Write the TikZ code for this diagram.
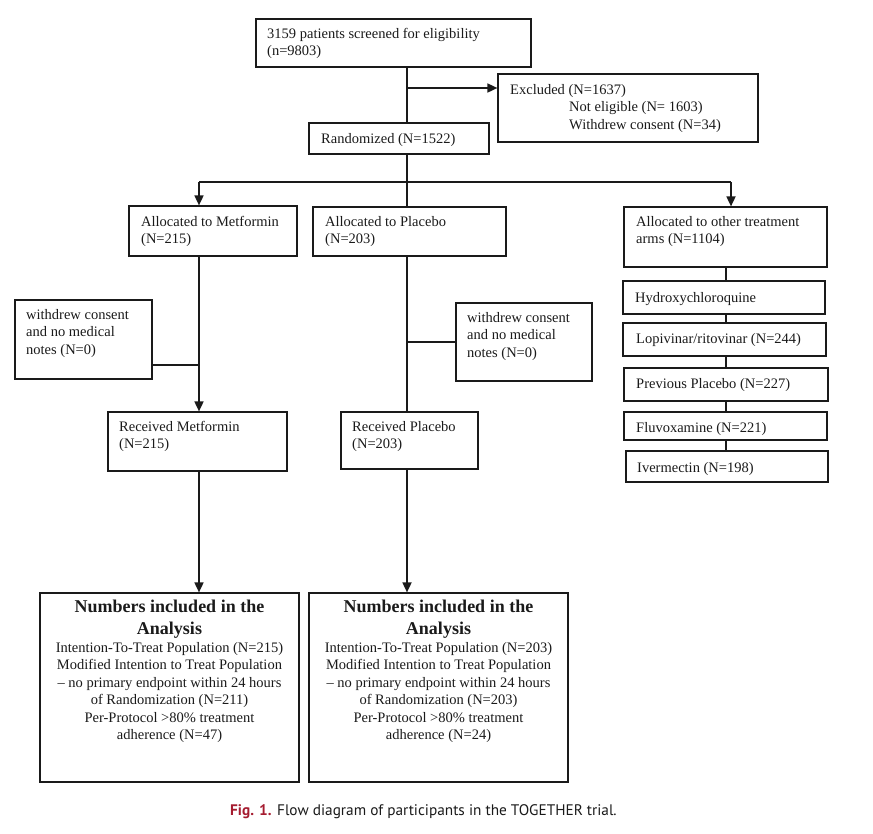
\documentclass[tikz,border=0pt]{standalone}
\usepackage{fontspec}
\setmainfont{Liberation Serif}
\newfontfamily\capfont{PT Sans}
\usetikzlibrary{arrows.meta}
\definecolor{figred}{HTML}{A51C30}
\definecolor{ink}{HTML}{1A1A1A}
\newcommand\mainsz{\fontsize{14.5}{17.5}\selectfont}
\newcommand\titlesz{\fontsize{18}{22}\selectfont}
\begin{document}
\begin{tikzpicture}[x=1pt,y=-1pt,
  box/.style={draw=ink, line width=1.2pt, inner sep=0pt},
  txt/.style={anchor=north west, inner sep=0pt, align=left, font=\mainsz, text=ink},
  one/.style={anchor=base west, inner sep=0pt, font=\mainsz, text=ink},
  ctr/.style={anchor=north, inner sep=0pt, align=center, text=ink},
  conn/.style={draw=ink, line width=1.7pt},
  arr/.style={conn, -{Triangle[width=9pt,length=10pt]}}]
\useasboundingbox (0,0) rectangle (873,833);
% boxes
\node[box, minimum width=275pt, minimum height=48pt] (top) at (393.5,43) {};
\node[box, minimum width=260pt, minimum height=68pt] (excl) at (628,108) {};
\node[box, minimum width=180pt, minimum height=31pt] (rand) at (399,138.5) {};
\node[box, minimum width=168pt, minimum height=50pt] (allocM) at (213,231) {};
\node[box, minimum width=193pt, minimum height=49pt] (allocP) at (409.5,231.5) {};
\node[box, minimum width=203pt, minimum height=60pt] (allocO) at (725.5,237) {};
\node[box, minimum width=137pt, minimum height=79pt] (wdM) at (83.5,339.5) {};
\node[box, minimum width=136pt, minimum height=78pt] (wdP) at (524,342) {};
\node[box, minimum width=179pt, minimum height=59pt] (recM) at (197.5,441.5) {};
\node[box, minimum width=137pt, minimum height=57pt] (recP) at (409.5,440.5) {};
\node[box, minimum width=202pt, minimum height=33pt] (hcq) at (724,297.5) {};
\node[box, minimum width=203pt, minimum height=33pt] (lop) at (724.5,339.5) {};
\node[box, minimum width=204pt, minimum height=33pt] (pp) at (726,384.5) {};
\node[box, minimum width=203pt, minimum height=28pt] (flu) at (725.5,426) {};
\node[box, minimum width=202pt, minimum height=31pt] (iver) at (727,466.5) {};
\node[box, minimum width=259pt, minimum height=189pt] (anM) at (169.5,687.5) {};
\node[box, minimum width=259pt, minimum height=189pt] (anP) at (438.5,687.5) {};
% texts
\node[txt] (ttop) at (267,28) {3159 patients screened for eligibility\\(n=9803)};
\node[txt] (texcl) at (510,84) {Excluded (N=1637)\\\hspace{59pt}Not eligible (N= 1603)\\\hspace{59pt}Withdrew consent (N=34)};
\node[one] (trand) at (321,143) {Randomized (N=1522)};
\node[txt] (tallocM) at (141,216) {Allocated to Metformin\\(N=215)};
\node[txt] (tallocP) at (325,216) {Allocated to Placebo\\(N=203)};
\node[txt] (tallocO) at (636,216) {Allocated to other treatment\\arms (N=1104)};
\node[txt] (twdM) at (26,309) {withdrew consent\\and no medical\\notes (N=0)};
\node[txt] (twdP) at (467,312) {withdrew consent\\and no medical\\notes (N=0)};
\node[txt] (trecM) at (119,421) {Received Metformin\\(N=215)};
\node[txt] (trecP) at (352,421) {Received Placebo\\(N=203)};
\node[one] (thcq) at (635,302) {Hydroxychloroquine};
\node[one] (tlop) at (636,343) {Lopivinar/ritovinar (N=244)};
\node[one] (tpp) at (636,388) {Previous Placebo (N=227)};
\node[one] (tflu) at (636,432) {Fluvoxamine (N=221)};
\node[one] (tiver) at (637,472) {Ivermectin (N=198)};
\node[ctr, font=\titlesz\bfseries] (hanM) at (169.5,600) {Numbers included in the\\Analysis};
\node[ctr, font=\mainsz] (banM) at (169.5,642) {Intention-To-Treat Population (N=215)\\Modified Intention to Treat Population\\-- no primary endpoint within 24 hours\\of Randomization (N=211)\\Per-Protocol >80\% treatment\\adherence (N=47)};
\node[ctr, font=\titlesz\bfseries] (hanP) at (438.5,600) {Numbers included in the\\Analysis};
\node[ctr, font=\mainsz] (banP) at (438.5,642) {Intention-To-Treat Population (N=203)\\Modified Intention to Treat Population\\-- no primary endpoint within 24 hours\\of Randomization (N=203)\\Per-Protocol >80\% treatment\\adherence (N=24)};
\node[anchor=base west, inner sep=0pt, font=\capfont\fontsize{15.3}{17}\selectfont, text=ink] (cap) at (230,815) {{\bfseries\color{figred}Fig. 1.} Flow diagram of participants in the TOGETHER trial.};
% helper coordinates
\coordinate (spine) at (407,0);
\coordinate (exy) at (0,88);
\coordinate (bry) at (0,182);
\coordinate (leftx) at (199,0);
\coordinate (rightx) at (731,0);
\coordinate (stackx) at (726,0);
\coordinate (wdMy) at (0,365);
\coordinate (wdPy) at (0,342);
% connectors
\draw[conn] (top.south -| spine) -- (rand.north -| spine);
\draw[arr] (spine |- exy) -- (excl.west |- exy);
\draw[conn] (rand.south -| spine) -- (allocP.north -| spine);
\draw[conn] (leftx |- bry) -- (rightx |- bry);
\draw[arr] (leftx |- bry) -- (allocM.north -| leftx);
\draw[arr] (rightx |- bry) -- (allocO.north -| rightx);
\draw[arr] (allocM.south -| leftx) -- (recM.north -| leftx);
\draw[conn] (wdM.east |- wdMy) -- (leftx |- wdMy);
\draw[conn] (allocP.south -| spine) -- (recP.north -| spine);
\draw[conn] (wdP.west |- wdPy) -- (spine |- wdPy);
\draw[arr] (recM.south -| leftx) -- (anM.north -| leftx);
\draw[arr] (recP.south -| spine) -- (anP.north -| spine);
\draw[conn] (allocO.south -| stackx) -- (hcq.north -| stackx);
\draw[conn] (hcq.south -| stackx) -- (lop.north -| stackx);
\draw[conn] (lop.south -| stackx) -- (pp.north -| stackx);
\draw[conn] (pp.south -| stackx) -- (flu.north -| stackx);
\draw[conn] (flu.south -| stackx) -- (iver.north -| stackx);
\end{tikzpicture}
\end{document}
